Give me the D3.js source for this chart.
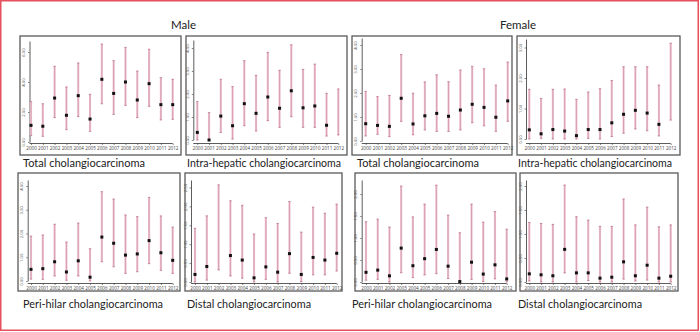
<!DOCTYPE html>
<html><head><meta charset="utf-8">
<script src="https://cdn.jsdelivr.net/npm/d3@7"></script>
<style>html,body{margin:0;padding:0;background:#fff}svg{display:block}</style>
</head><body>
<svg id="chart" width="700" height="332"></svg>
<script>
const years = [2000,2001,2002,2003,2004,2005,2006,2007,2008,2009,2010,2011,2012];
const sexLabels = ["Male","Female"];
const panelTitles = ["Total cholangiocarcinoma","Intra-hepatic cholangiocarcinoma","Total cholangiocarcinoma","Intra-hepatic cholangiocarcinoma",
  "Peri-hilar cholangiocarcinoma","Distal cholangiocarcinoma","Peri-hilar cholangiocarcinoma","Distal cholangiocarcinoma"];

// Male – total
const maleTotalEst = [1.11,1.05,2.93,1.78,3.09,1.53,4.18,3.24,4.00,2.80,3.89,2.49,2.49];
const maleTotalLo  = [0.42,0.38,1.62,0.82,1.69,0.71,2.55,1.84,2.44,1.62,2.38,1.47,1.51];
const maleTotalHi  = [2.69,2.55,5.05,3.67,5.27,3.18,6.53,5.42,6.31,4.73,6.18,4.29,4.18];
// Male – intra-hepatic
const maleIntraEst = [0.33,0.00,1.04,0.62,1.58,1.16,1.87,1.38,2.14,1.40,1.48,0.64,null];
const maleIntraLo  = [0.00,0.00,0.33,0.04,0.62,0.39,0.84,0.55,1.01,0.55,0.55,0.17,0.22];
const maleIntraHi  = [1.67,1.19,2.64,2.32,3.45,2.81,3.81,3.03,4.14,3.07,3.30,2.03,2.22];
// Female – total
const femaleTotalEst = [0.72,0.65,0.61,1.78,0.71,1.05,1.15,1.03,1.29,1.53,1.40,0.99,1.67];
const femaleTotalLo  = [0.21,0.28,0.18,0.82,0.26,0.46,0.40,0.40,0.46,0.76,0.63,0.40,0.82];
const femaleTotalHi  = [2.07,1.85,1.90,3.60,1.99,2.46,2.76,2.47,2.96,3.11,3.01,2.33,3.29];
// Female – intra-hepatic
const femaleIntraEst = [0.30,0.17,0.31,0.26,0.11,0.31,0.31,0.53,0.81,0.94,0.85,0.48,null];
const femaleIntraLo  = [0.00,0.02,0.00,0.00,0.00,0.02,0.00,0.08,0.19,0.33,0.27,0.10,0.62];
const femaleIntraHi  = [1.63,1.33,1.63,1.64,1.30,1.54,1.65,1.92,2.37,2.37,2.37,1.77,3.14];
// Male – peri-hilar
const malePeriEst = [0.49,0.52,0.81,0.38,0.85,0.16,1.85,1.59,1.09,1.14,1.70,1.19,0.87];
const malePeriLo  = [0.08,0.07,0.21,0.03,0.21,0.00,0.81,0.60,0.32,0.39,0.73,0.45,0.32];
const malePeriHi  = [1.89,1.94,2.39,1.64,2.44,1.36,3.76,3.45,2.78,2.71,3.52,2.74,2.27];
// Male – distal
const maleDistEst = [0.20,0.41,null,0.70,0.58,0.11,0.40,0.26,0.75,0.20,0.65,0.58,0.76];
const maleDistLo  = [0.00,0.05,0.32,0.16,0.10,0.00,0.07,0.00,0.23,0.01,0.19,0.19,0.29];
const maleDistHi  = [1.42,1.75,2.57,2.15,2.03,1.27,1.70,1.55,2.13,1.32,1.98,1.82,2.06];
// Female – peri-hilar
const femalePeriEst = [0.22,0.27,0.14,0.77,0.37,0.53,0.74,0.36,0.01,0.45,0.18,0.39,0.07];
const femalePeriLo  = [0.04,0.06,0.00,0.21,0.10,0.16,0.19,0.08,0.00,0.06,0.01,0.07,0.00];
const femalePeriHi  = [1.37,1.43,1.25,2.18,1.48,1.77,2.20,1.52,1.12,1.77,1.36,1.60,1.20];
// Female – distal
const femaleDistEst = [0.17,0.15,0.13,0.68,0.19,0.19,0.08,0.10,0.42,0.13,0.35,0.08,0.12];
const femaleDistLo  = [0.02,0.00,0.00,0.19,0.00,0.03,0.00,0.00,0.06,0.02,0.04,0.00,0.00];
const femaleDistHi  = [1.24,1.22,1.20,2.02,1.36,1.29,1.16,1.16,1.73,1.19,1.56,1.15,1.19];

// y tick labels per panel
const ticksA = ["0.00","2.00","4.00","6.00"];
const ticksB = ["0.00","1.00","2.00","3.00","4.00"];
const ticksC = ["0.00","1.00","2.00","3.00"];
const ticksD = ["0.00","0.50","1.00","1.50","2.00","2.50"];
const ticksE = ["0.00","0.50","1.00","1.50","2.00"];

const series = [
  [maleTotalEst, maleTotalLo, maleTotalHi, ticksA],
  [maleIntraEst, maleIntraLo, maleIntraHi, ticksB],
  [femaleTotalEst, femaleTotalLo, femaleTotalHi, ticksB],
  [femaleIntraEst, femaleIntraLo, femaleIntraHi, ticksC],
  [malePeriEst, malePeriLo, malePeriHi, ticksB],
  [maleDistEst, maleDistLo, maleDistHi, ticksD],
  [femalePeriEst, femalePeriLo, femalePeriHi, ticksE],
  [femaleDistEst, femaleDistLo, femaleDistHi, ticksE]
];

// layout (pixels)
const layout = [
  {box:[20,36,181,155], xr:[31,172.7], ax:29.5, y0:142, k:15,   top:41, xa:143.5, tx:23,  ty:167, tw:122},
  {box:[186,36,347,155],xr:[197.3,338.3],ax:193.3,y0:140,k:23,  top:40, xa:143.5, tx:187, ty:167, tw:154},
  {box:[352,36,512,155],xr:[365.7,507.7],ax:361.7,y0:141,k:24,  top:38, xa:143.5, tx:357, ty:167, tw:122},
  {box:[517,36,680,155],xr:[529.3,670.7],ax:526, y0:139,k:30.5, top:39, xa:143.5, tx:518, ty:167, tw:154},
  {box:[18,173,180,291],xr:[31,172.7], ax:27.7, y0:281,k:23.75, top:180,xa:283.5, tx:23,  ty:307.5, tw:140},
  {box:[185,173,342,291],xr:[195,336.7],ax:191, y0:282,k:37.8,  top:180,xa:283.5, tx:187, ty:307.5, tw:124},
  {box:[355,173,516,291],xr:[366,506.7],ax:361.7,y0:282,k:44,   top:180,xa:283.5, tx:352, ty:307.5, tw:140},
  {box:[520,173,678,291],xr:[529.3,670.7],ax:526,y0:282,k:48,   top:180,xa:283.5, tx:518, ty:307.5, tw:124}
];

const svg = d3.select("#chart");
svg.append("rect").attr("x",0.75).attr("y",0.75).attr("width",697.5).attr("height",329.5)
  .attr("fill","#fff").attr("stroke","#e6505c").attr("stroke-width",1.5);

const font = "Lato, 'Open Sans', sans-serif";
svg.append("text").attr("x",183.5).attr("y",28.5).attr("text-anchor","middle")
  .attr("font-family",font).attr("font-size",11.5).attr("fill","#222").text(sexLabels[0]);
svg.append("text").attr("x",518).attr("y",28.5).attr("text-anchor","middle")
  .attr("font-family",font).attr("font-size",11.5).attr("fill","#222").text(sexLabels[1]);

series.forEach(([est, lo, hi, tks], i) => {
  const L = layout[i];
  const g = svg.append("g");
  const [bx0,by0,bx1,by1] = L.box;
  g.append("rect").attr("x",bx0).attr("y",by0).attr("width",bx1-bx0).attr("height",by1-by0)
    .attr("fill","#fff").attr("stroke","#5a5a5a").attr("stroke-width",1.3);

  const x = d3.scalePoint().domain(years).range(L.xr);
  const tickVals = tks.map(Number);
  const yMaxPx = (L.y0 - L.top) / L.k;
  const y = d3.scaleLinear().domain([0, yMaxPx]).range([L.y0, L.top]);

  const yAxis = d3.axisLeft(y).tickValues(tickVals).tickFormat((d,j)=>tks[j]).tickSize(1.5).tickSizeOuter(0);
  const ya = g.append("g").attr("transform",`translate(${L.ax},0)`).call(yAxis);
  ya.select(".domain").attr("stroke","#333").attr("stroke-width",0.8);
  ya.selectAll(".tick line").attr("stroke","#333").attr("stroke-width",0.6);
  ya.selectAll(".tick text").attr("font-family","'Open Sans', sans-serif").attr("font-size",4.3).attr("fill","#444")
    .attr("x",0).attr("dy",0).attr("text-anchor","middle")
    .attr("transform","translate(-4.5,0) rotate(-90)");

  const xAxis = d3.axisBottom(x).tickSize(1.5).tickSizeOuter(0);
  const xa = g.append("g").attr("transform",`translate(0,${L.xa})`).call(xAxis);
  xa.select(".domain").attr("stroke","#333").attr("stroke-width",0.8)
    .attr("d",`M${L.ax},0H${L.xr[1]}`);
  xa.selectAll(".tick line").attr("stroke","#333").attr("stroke-width",0.6);
  xa.selectAll(".tick text").attr("font-family","'Open Sans', sans-serif").attr("font-size",4.6).attr("fill","#444").attr("y",3.2);

  const data = years.map((yr,j)=>({yr, e:est[j], l:lo[j], h:hi[j]}));
  const eb = g.append("g");
  eb.selectAll("line.bar").data(data).join("line").attr("class","bar")
    .attr("x1",d=>x(d.yr)).attr("x2",d=>x(d.yr)).attr("y1",d=>y(d.l)).attr("y2",d=>y(d.h))
    .attr("stroke","#ecc6d2").attr("stroke-width",2.2);
  eb.selectAll("line.core").data(data).join("line").attr("class","core")
    .attr("x1",d=>x(d.yr)).attr("x2",d=>x(d.yr)).attr("y1",d=>y(d.l)).attr("y2",d=>y(d.h))
    .attr("stroke","#d28ca2").attr("stroke-width",0.7);
  ["l","h"].forEach(k=>{
    eb.selectAll("line.cap"+k).data(data).join("line").attr("class","cap"+k)
      .attr("x1",d=>x(d.yr)-1.2).attr("x2",d=>x(d.yr)+1.2).attr("y1",d=>y(d[k])).attr("y2",d=>y(d[k]))
      .attr("stroke","#b86680").attr("stroke-width",0.7);
  });
  eb.selectAll("rect.pt").data(data.filter(d=>d.e!==null)).join("rect").attr("class","pt")
    .attr("x",d=>x(d.yr)-1.5).attr("y",d=>y(d.e)-1.5).attr("width",3).attr("height",3).attr("fill","#111");

  svg.append("text").attr("x",L.tx).attr("y",L.ty).attr("font-family",font).attr("font-size",11.5)
    .attr("fill","#222").attr("textLength",L.tw).attr("lengthAdjust","spacingAndGlyphs").text(panelTitles[i]);
});
</script>
</body></html>
